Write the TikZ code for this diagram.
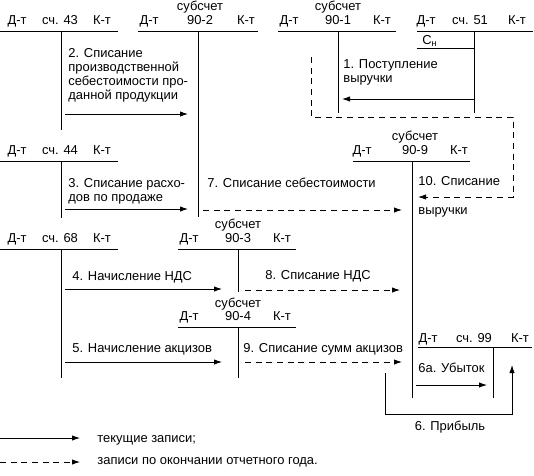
\documentclass[tikz,border=0pt]{standalone}
\usepackage{fontspec}
\setmainfont{Liberation Sans}
\usetikzlibrary{arrows.meta}
\begin{document}
\begin{tikzpicture}[x=0.75pt,y=-0.75pt,line width=0.6pt,
  lbl/.style={anchor=base,inner sep=0pt,font=\fontsize{9.7}{11}\selectfont},
  txt/.style={anchor=base west,inner sep=0pt,font=\fontsize{9.7}{11}\selectfont},
  cur/.style={-{Latex[length=6pt,width=4pt]}},
  fin/.style={-{Latex[length=6pt,width=4pt]},dash pattern=on 4.5pt off 3.5pt}]
\useasboundingbox (0,0) rectangle (534,475);

% ---------- account 43
\coordinate (a43l) at (0,31); \coordinate (a43r) at (118,31);
\coordinate (a43t) at (61,31); \coordinate (a43b) at (61,130);
\draw (a43l) -- (a43r); \draw (a43t) -- (a43b);
\node[lbl] (a43d) at (17,24) {Д-т};
\node[lbl] (a43n) at (60,24) {сч. 43};
\node[lbl] (a43k) at (102,24) {К-т};

% ---------- sub-account 90-2
\coordinate (s2l) at (138,31); \coordinate (s2r) at (258,31);
\coordinate (s2t) at (198,31); \coordinate (s2b) at (198,217);
\draw (s2l) -- (s2r); \draw (s2t) -- (s2b);
\node[lbl] (s2s) at (200,10) {субсчет};
\node[lbl] (s2n) at (200,24) {90-2};
\node[lbl] (s2d) at (149,24) {Д-т};
\node[lbl] (s2k) at (246,24) {К-т};

% ---------- sub-account 90-1
\coordinate (s1l) at (278,31); \coordinate (s1r) at (396,31);
\coordinate (s1t) at (338,31); \coordinate (s1b) at (338,113);
\draw (s1l) -- (s1r); \draw (s1t) -- (s1b);
\node[lbl] (s1s) at (338,10) {субсчет};
\node[lbl] (s1n) at (338,24) {90-1};
\node[lbl] (s1d) at (289,24) {Д-т};
\node[lbl] (s1k) at (382,24) {К-т};

% ---------- account 51
\coordinate (a51l) at (417,31); \coordinate (a51r) at (533,31);
\coordinate (a51t) at (474,31); \coordinate (a51b) at (474,113);
\coordinate (a51cl) at (417,48); \coordinate (a51cr) at (474,48);
\draw (a51l) -- (a51r); \draw (a51t) -- (a51b); \draw (a51cl) -- (a51cr);
\node[lbl] (a51d) at (426,24) {Д-т};
\node[lbl] (a51n) at (470,24) {сч. 51};
\node[lbl] (a51k) at (517,24) {К-т};
\node[txt] (a51c) at (422,44) {С\textsubscript{н}};

% ---------- entry 1
\coordinate (e1s) at (474,99); \coordinate (e1e) at (342,99);
\draw[cur] (e1s) -- (e1e);
\node[txt] (t1a) at (343,68) {1. Поступление};
\node[txt] (t1b) at (343,82) {выручки};

% ---------- entry 2
\coordinate (e2s) at (65,114); \coordinate (e2e) at (188,114);
\draw[cur] (e2s) -- (e2e);
\node[txt] (t2a) at (68,57) {2. Списание};
\node[txt] (t2b) at (68,71) {производственной};
\node[txt] (t2c) at (68,85) {себестоимости про-};
\node[txt] (t2d) at (68,99) {данной продукции};

% ---------- entry 10 (dashed)
\coordinate (e10a) at (311,57); \coordinate (e10b) at (311,117);
\coordinate (e10c) at (513,117); \coordinate (e10d) at (513,197);
\coordinate (e10e) at (418,197);
\draw[fin] (e10a) -- (e10b) -- (e10c) -- (e10d) -- (e10e);
\node[txt] (t10a) at (418,185) {10. Списание};
\node[txt] (t10b) at (418,214.5) {выручки};

% ---------- account 44
\coordinate (a44l) at (0,161); \coordinate (a44r) at (118,161);
\coordinate (a44t) at (61,161); \coordinate (a44b) at (61,218);
\draw (a44l) -- (a44r); \draw (a44t) -- (a44b);
\node[lbl] (a44d) at (17,154) {Д-т};
\node[lbl] (a44n) at (60,154) {сч. 44};
\node[lbl] (a44k) at (102,154) {К-т};

% ---------- entry 3
\coordinate (e3s) at (65,209); \coordinate (e3e) at (188,209);
\draw[cur] (e3s) -- (e3e);
\node[txt] (t3a) at (68,187) {3. Списание расхо-};
\node[txt] (t3b) at (68,201) {дов по продаже};

% ---------- sub-account 90-9
\coordinate (s9l) at (353,161); \coordinate (s9r) at (470,161);
\coordinate (s9t) at (412,161); \coordinate (s9b) at (412,398);
\draw (s9l) -- (s9r); \draw (s9t) -- (s9b);
\node[lbl] (s9s) at (415,140) {субсчет};
\node[lbl] (s9n) at (415,154) {90-9};
\node[lbl] (s9d) at (362,154) {Д-т};
\node[lbl] (s9k) at (459,154) {К-т};

% ---------- entry 7
\coordinate (e7s) at (203,210); \coordinate (e7e) at (402,210);
\draw[fin] (e7s) -- (e7e);
\node[txt] (t7) at (207,187) {7. Списание себестоимости};

% ---------- account 68
\coordinate (a68l) at (0,249); \coordinate (a68r) at (118,249);
\coordinate (a68t) at (61,249); \coordinate (a68b) at (61,378);
\draw (a68l) -- (a68r); \draw (a68t) -- (a68b);
\node[lbl] (a68d) at (17,242) {Д-т};
\node[lbl] (a68n) at (60,242) {сч. 68};
\node[lbl] (a68k) at (102,242) {К-т};

% ---------- sub-account 90-3
\coordinate (s3l) at (178,249); \coordinate (s3r) at (296,249);
\coordinate (s3t) at (238,249); \coordinate (s3b) at (238,292);
\draw (s3l) -- (s3r); \draw (s3t) -- (s3b);
\node[lbl] (s3s) at (238,228) {субсчет};
\node[lbl] (s3n) at (238,242) {90-3};
\node[lbl] (s3d) at (189,242) {Д-т};
\node[lbl] (s3k) at (282,242) {К-т};

% ---------- entries 4 and 8
\coordinate (e4s) at (65,289); \coordinate (e4e) at (222,289);
\draw[cur] (e4s) -- (e4e);
\node[txt] (t4) at (72,280) {4. Начисление НДС};
\coordinate (e8s) at (245,290); \coordinate (e8e) at (400,290);
\draw[fin] (e8s) -- (e8e);
\node[txt] (t8) at (265,279.5) {8. Списание НДС};

% ---------- sub-account 90-4
\coordinate (s4l) at (178,327); \coordinate (s4r) at (296,327);
\coordinate (s4t) at (238,327); \coordinate (s4b) at (238,378);
\draw (s4l) -- (s4r); \draw (s4t) -- (s4b);
\node[lbl] (s4s) at (238,307) {субсчет};
\node[lbl] (s4n) at (238,320) {90-4};
\node[lbl] (s4d) at (189,320) {Д-т};
\node[lbl] (s4k) at (282,320) {К-т};

% ---------- entries 5 and 9
\coordinate (e5s) at (65,362); \coordinate (e5e) at (222,362);
\draw[cur] (e5s) -- (e5e);
\node[txt] (t5) at (72,352) {5. Начисление акцизов};
\coordinate (e9s) at (245,362); \coordinate (e9e) at (402,362);
\draw[fin] (e9s) -- (e9e);
\node[txt] (t9) at (243,352.5) {9. Списание сумм акцизов};

% ---------- account 99
\coordinate (a99l) at (418,347); \coordinate (a99r) at (532,347);
\coordinate (a99t) at (493,347); \coordinate (a99b) at (493,398);
\draw (a99l) -- (a99r); \draw (a99t) -- (a99b);
\node[lbl] (a99d) at (428,342) {Д-т};
\node[lbl] (a99n) at (474,342) {сч. 99};
\node[lbl] (a99k) at (520,342) {К-т};

% ---------- entry 6a
\coordinate (e6as) at (416,385); \coordinate (e6ae) at (487,385);
\draw[cur] (e6as) -- (e6ae);
\node[txt] (t6a) at (418,372.5) {6а. Убыток};

% ---------- entry 6
\coordinate (e6a) at (385,373); \coordinate (e6b) at (385,414);
\coordinate (e6c) at (512,414); \coordinate (e6d) at (512,365);
\draw[cur] (e6a) -- (e6b) -- (e6c) -- (e6d);
\node[lbl] (t6) at (450,430) {6. Прибыль};

% ---------- legend
\coordinate (l1s) at (0,438); \coordinate (l1e) at (80,438);
\draw[cur] (l1s) -- (l1e);
\node[txt] (l1t) at (97,442.5) {текущие записи;};
\coordinate (l2s) at (0,462); \coordinate (l2e) at (80,462);
\draw[fin] (l2s) -- (l2e);
\node[txt] (l2t) at (97,464.5) {записи по окончании отчетного года.};
\end{tikzpicture}
\end{document}
